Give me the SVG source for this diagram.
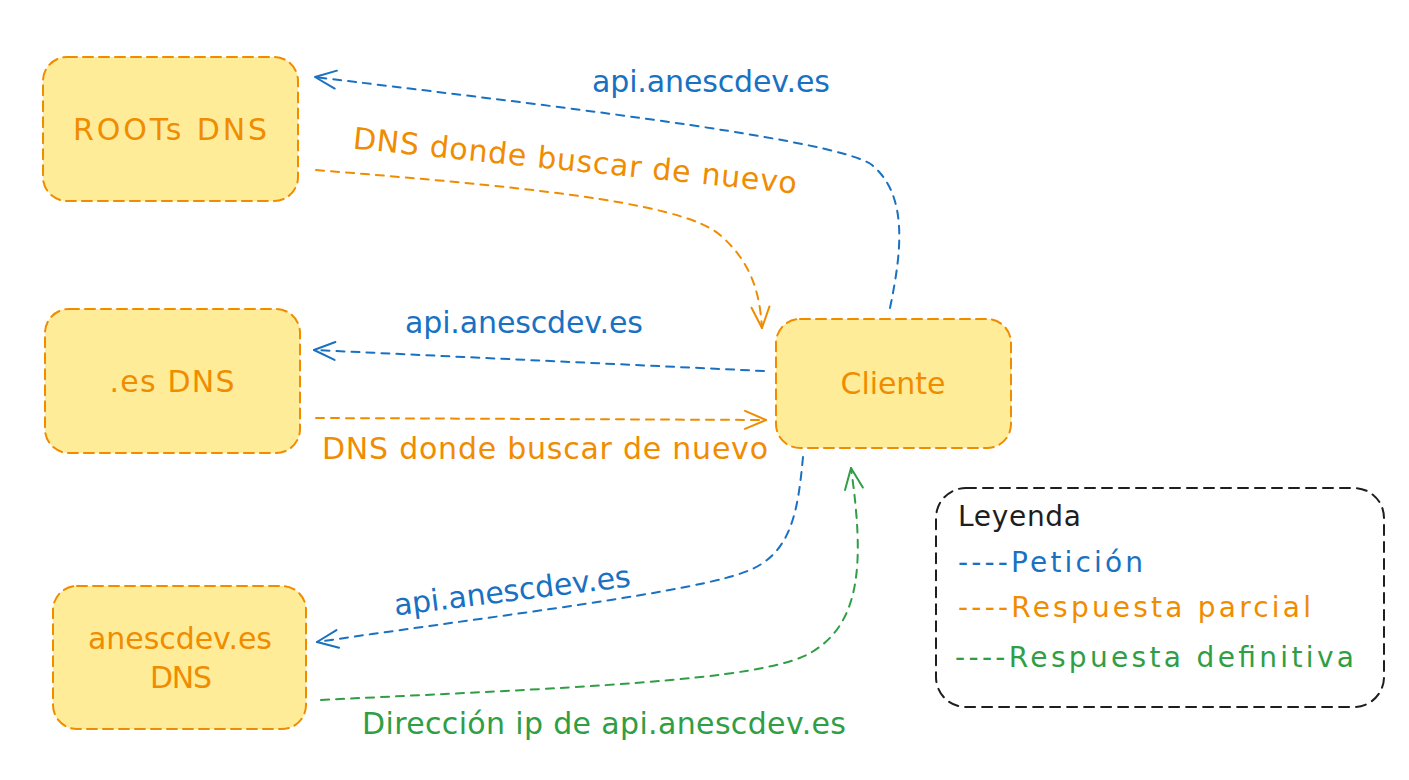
<svg xmlns="http://www.w3.org/2000/svg" width="1409" height="780" viewBox="0 0 1409 780">
<style>
.node{fill:#ffec99;stroke:#f08c00;stroke-width:2;stroke-dasharray:10 6;stroke-linecap:round}
.legend{fill:none;stroke:#1e1e1e;stroke-width:2;stroke-dasharray:10 7;stroke-linecap:round}
text{font-family:"DejaVu Sans","Liberation Sans",sans-serif;font-size:30px}
.s{font-size:28px}
.t{text-anchor:middle}
.o{fill:#f08c00}.b{fill:#1971c2}.g{fill:#2f9e44}.k{fill:#1e1e1e}
.c{fill:none;stroke-width:2;stroke-dasharray:8 7;stroke-linecap:round}
.cb{stroke:#1971c2}.co{stroke:#f08c00}.cg{stroke:#2f9e44}
</style>
<defs>
<marker id="ab" markerUnits="userSpaceOnUse" viewBox="-24 -12 26 24" markerWidth="26" markerHeight="24" refX="0" refY="0" orient="auto"><path d="M-21,-9 L0,0 L-21,9" fill="none" stroke="#1971c2" stroke-width="2" stroke-linecap="round" stroke-linejoin="round"/></marker>
<marker id="ao" markerUnits="userSpaceOnUse" viewBox="-24 -12 26 24" markerWidth="26" markerHeight="24" refX="0" refY="0" orient="auto"><path d="M-21,-9 L0,0 L-21,9" fill="none" stroke="#f08c00" stroke-width="2" stroke-linecap="round" stroke-linejoin="round"/></marker>
<marker id="ag" markerUnits="userSpaceOnUse" viewBox="-24 -12 26 24" markerWidth="26" markerHeight="24" refX="0" refY="0" orient="auto"><path d="M-21,-9 L0,0 L-21,9" fill="none" stroke="#2f9e44" stroke-width="2" stroke-linecap="round" stroke-linejoin="round"/></marker>
</defs>
<rect width="1409" height="780" fill="#ffffff"/>
<g id="connectors">
<path class="c cb" d="M890,308 C902,250 908,195 872,165 C835,137 500,100 315,77" marker-end="url(#ab)"/>
<path class="c co" d="M316,170 C500,185 680,200 720,235 C755,265 760,300 762,328" marker-end="url(#ao)"/>
<path class="c cb" d="M764,371 L314,350" marker-end="url(#ab)"/>
<path class="c co" d="M316,418 L766,420" marker-end="url(#ao)"/>
<path class="c cb" d="M803,457 C798,510 792,552 750,570 C700,592 500,615 317,642" marker-end="url(#ab)"/>
<path class="c cg" d="M321,700 C560,688 765,682 812,652 C862,622 864,560 851,468" marker-end="url(#ag)"/>
<text class="t b" x="711" y="92" textLength="238">api.anescdev.es</text>
<text class="t o" x="575" y="171" textLength="446" transform="rotate(5.8 575 161)">DNS donde buscar de nuevo</text>
<text class="t b" x="524" y="333" textLength="238">api.anescdev.es</text>
<text class="t o" x="545" y="459" textLength="446">DNS donde buscar de nuevo</text>
<text class="t b" x="512" y="601" textLength="238" transform="rotate(-7 512 590)">api.anescdev.es</text>
<text class="t g" x="604" y="734" textLength="484">Dirección ip de api.anescdev.es</text>
</g>
<g id="roots">
<rect class="node" x="43" y="57" width="255" height="144" rx="24"/>
<text class="t o" x="170" y="140" textLength="194">ROOTs DNS</text>
</g>
<g id="es">
<rect class="node" x="45" y="309" width="255" height="144" rx="24"/>
<text class="t o" x="172" y="392" textLength="125">.es DNS</text>
</g>
<g id="anescdev">
<rect class="node" x="53" y="586" width="253" height="143" rx="24"/>
<text class="t o" x="180" y="649" textLength="184">anescdev.es</text>
<text class="t o" x="181" y="688" textLength="62">DNS</text>
</g>
<g id="cliente">
<rect class="node" x="776" y="319" width="235" height="129" rx="24"/>
<text class="t o" x="893" y="394" textLength="105">Cliente</text>
</g>
<g id="leyenda">
<rect class="legend" x="936" y="488" width="448" height="219" rx="30"/>
<text class="k s" x="958" y="526" textLength="123">Leyenda</text>
<text class="b s" x="958" y="572" textLength="185">----Petición</text>
<text class="o s" x="958" y="617" textLength="353">----Respuesta parcial</text>
<text class="g s" x="955" y="667" textLength="399">----Respuesta definitiva</text>
</g>
</svg>
